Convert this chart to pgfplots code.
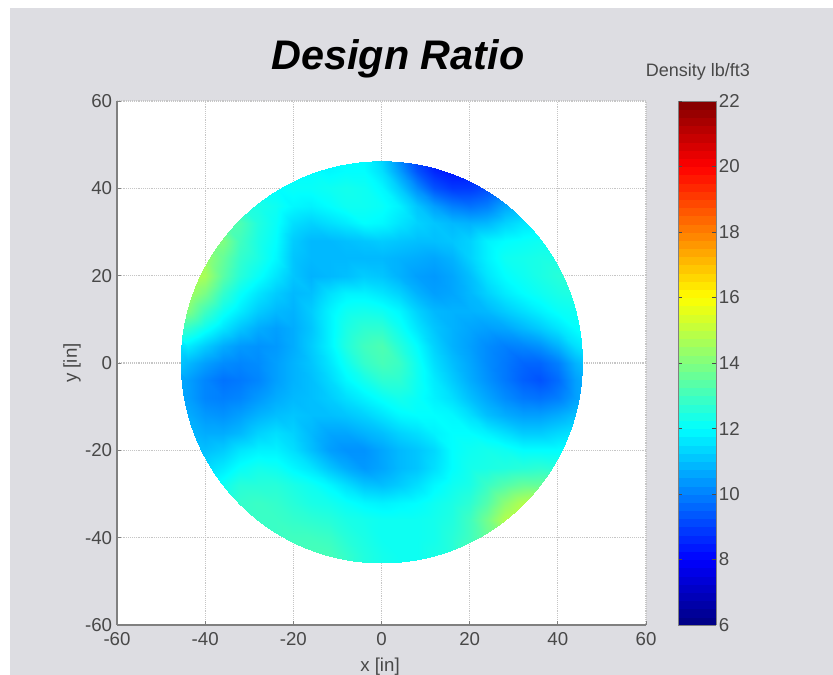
\documentclass[border=0pt]{standalone}
\usepackage{pgfplots}
\pgfplotsset{compat=1.18}
\usepackage{fontspec}
\setmainfont{Liberation Sans}
\definecolor{panel}{HTML}{DDDDE2}
\definecolor{txt}{HTML}{484848}
\definecolor{axln}{HTML}{808080}
\definecolor{grd}{HTML}{C6C6C6}
\begin{document}
\begin{tikzpicture}
\path[use as bounding box] (0pt,0pt) rectangle (624.75pt,506.25pt);
\fill[panel] (7.5pt,0pt) rectangle (624.75pt,500.25pt);
% frame, grid, colour bar
\begin{axis}[
  at={(87.75pt,37.5pt)}, anchor=south west, scale only axis,
  width=396.75pt, height=393pt,
  xmin=-60, xmax=60, ymin=-60, ymax=60,
  xtick={-60,-40,...,60}, ytick={-60,-40,...,60},
  axis background/.style={fill=white},
  axis x line*=bottom, axis y line*=left,
  axis line style={-,axln,line width=0.8pt},
  grid=major, grid style={densely dotted,grd,line width=0.9pt},
  tick align=inside, major tick length=3pt,
  tick style={axln,line width=0.6pt},
  /pgf/number format/assume math mode=true,
  tick label style={font=\fontsize{14}{16}\selectfont,text=txt},
  xticklabel style={inner sep=0pt, yshift=-5.5pt},
  yticklabel style={inner sep=0pt, xshift=-3.5pt},
  colormap/jet, point meta min=6, point meta max=22,
  colorbar,
  colorbar sampled, 
  colorbar style={
    at={(1.0605,0)}, anchor=south west,
    width=28.5pt, height=393pt,
    samples=65,
    ytick={6,8,...,22},
    ytick pos=both, yticklabel pos=right,
    tick align=inside, major tick length=3pt,
    axis line style={-,axln,line width=0.6pt},
    tick style={black!70,line width=0.5pt},
    /pgf/number format/assume math mode=true,
    yticklabel style={font=\fontsize{14}{16}\selectfont,text=txt,inner sep=0pt,xshift=2pt},
  },
]
\addplot[draw=none,forget plot] coordinates {(0,0)};
\end{axis}
% density map: disc of radius about 46 in
\begin{scope}
\clip (286.1pt,234.75pt) circle (150.75pt);
\begin{axis}[
  at={(87.75pt,37.5pt)}, anchor=south west, scale only axis,
  width=396.75pt, height=393pt,
  xmin=-60, xmax=60, ymin=-60, ymax=60,
  hide axis, view={0}{90},
  colormap/jet, point meta min=6, point meta max=22,
]
\addplot3[surf, shader=interp, mesh/cols=25, mesh/ordering=x varies]
 table[row sep=\\, header=false, z index=0,
   x expr={-48+4*mod(\coordindex,25)},
   y expr={48-4*floor(\coordindex/25)}] {
12\\12\\12\\12\\12\\12\\12\\12\\12\\12\\12\\11.9\\11.2\\10\\8.9\\8.2\\8\\8\\8\\8\\8\\8\\8\\8\\8\\
12\\12\\12\\12\\12\\12\\12\\12\\12\\11.9\\12\\12\\11.5\\10.5\\9.3\\8.6\\8.3\\8.5\\8.5\\8.5\\8.5\\8.5\\8.5\\8.5\\8.5\\
12.1\\12.1\\12.1\\12.1\\12.1\\12.1\\12\\12.1\\12.1\\12.2\\12.3\\12.2\\11.9\\11.2\\10.2\\9.3\\8.9\\8.9\\9.2\\9.6\\9.6\\9.6\\9.6\\9.6\\9.6\\
12.6\\12.6\\12.6\\12.6\\12.6\\12.4\\12.2\\11.9\\11.8\\12\\12.2\\12.2\\12.1\\11.8\\11.1\\10.5\\10\\9.8\\10\\10.6\\11\\11\\11\\11\\11\\
13.4\\13.4\\13.4\\13.4\\13.2\\12.5\\12.1\\11.5\\11.3\\11.5\\11.7\\12\\11.9\\11.6\\11.3\\11.1\\10.9\\10.8\\10.9\\11.3\\11.6\\11.9\\11.9\\11.9\\11.9\\
14.2\\14.2\\14.2\\14\\13\\12.4\\12\\11.2\\10.9\\10.9\\11\\11.1\\11.2\\11.1\\11\\11\\11.1\\11.3\\11.8\\12\\12.1\\12.2\\12.3\\12.3\\12.3\\
14.6\\14.6\\14.4\\13.6\\12.8\\12.4\\11.9\\11.1\\10.9\\10.9\\10.9\\10.9\\10.9\\10.8\\10.7\\10.6\\10.8\\11.3\\11.8\\12.2\\12.3\\12.4\\12.4\\12.5\\12.5\\
15\\15\\14.6\\13.4\\12.6\\12.1\\11.6\\11.1\\10.8\\10.9\\11\\11.2\\11.1\\10.8\\10.5\\10.4\\10.6\\11\\11.6\\12\\12.2\\12.4\\12.6\\12.7\\12.7\\
15\\14.6\\13.9\\12.8\\12.1\\11.6\\11.2\\10.9\\11\\11.5\\11.8\\11.8\\11.6\\11.3\\10.8\\10.5\\10.6\\10.9\\11.3\\11.7\\12\\12.2\\12.4\\12.5\\12.5\\
14.4\\14\\13\\12.2\\11.7\\11.2\\10.9\\10.8\\11.2\\11.8\\12.2\\12.3\\12.2\\11.9\\11.3\\10.9\\10.8\\10.8\\10.9\\11.2\\11.5\\11.8\\12.1\\12.2\\12.3\\
13.2\\12.8\\12.2\\11.6\\11.1\\10.7\\10.5\\10.7\\11.1\\11.8\\12.4\\12.7\\12.7\\12.2\\11.6\\11.1\\10.8\\10.6\\10.5\\10.6\\10.9\\11.2\\11.6\\12\\12.2\\
12.2\\11.7\\11.2\\10.7\\10.4\\10.3\\10.4\\10.7\\11.2\\11.8\\12.5\\13\\13.2\\12.6\\12\\11.3\\10.8\\10.5\\10.2\\10\\10.1\\10.3\\10.8\\11.5\\11.9\\
11.3\\10.9\\10.5\\10.2\\10.1\\10.2\\10.5\\10.8\\11.1\\11.6\\12.2\\12.8\\13.1\\12.9\\12.2\\11.5\\11\\10.6\\10.2\\9.9\\9.6\\9.6\\10\\10.8\\11.3\\
10.8\\10.5\\10.1\\9.8\\9.9\\10.1\\10.5\\10.8\\11\\11.4\\11.9\\12.3\\12.7\\12.7\\12.2\\11.7\\11.2\\10.7\\10.3\\9.9\\9.5\\9.3\\9.7\\10.5\\11\\
10.8\\10.5\\10.1\\10\\10.1\\10.4\\10.7\\10.9\\11\\11.2\\11.5\\11.8\\12.1\\12.3\\12.1\\11.8\\11.5\\11\\10.6\\10.2\\9.9\\9.8\\10\\10.5\\10.9\\
10.9\\10.7\\10.4\\10.3\\10.5\\10.8\\11\\11.1\\11\\11\\11.1\\11.3\\11.6\\11.9\\12\\12\\11.9\\11.5\\11\\10.7\\10.5\\10.5\\10.7\\11\\11.2\\
11.1\\10.9\\10.7\\10.7\\10.9\\11.3\\11.5\\11.3\\10.9\\10.6\\10.6\\10.8\\11\\11.3\\11.5\\11.8\\12\\12\\11.8\\11.5\\11.2\\11.2\\11.4\\11.6\\11.7\\
11\\11\\11\\11.2\\11.6\\11.8\\11.8\\11.5\\11\\10.5\\10.3\\10.3\\10.6\\10.9\\11.1\\11.4\\12\\12.2\\12.3\\12.2\\12\\12\\12\\12.1\\12.1\\
11.3\\11.3\\11.4\\11.7\\12.1\\12.3\\12.2\\11.9\\11.6\\11.1\\10.7\\10.4\\10.6\\10.9\\11.1\\11.5\\12\\12.3\\12.4\\12.5\\12.6\\12.7\\12.6\\12.6\\12.6\\
12\\12\\12\\12.2\\12.6\\12.6\\12.6\\12.4\\12.2\\11.9\\11.5\\11.1\\11\\11.2\\11.5\\11.9\\12.2\\12.4\\12.9\\13.3\\13.6\\13.6\\13.6\\13.6\\13.6\\
12.6\\12.6\\12.6\\12.6\\12.8\\12.9\\12.8\\12.6\\12.4\\12.3\\12.1\\11.9\\11.8\\11.9\\12\\12.2\\12.4\\12.7\\13.3\\14.2\\14.8\\15\\15\\15\\15\\
12.8\\12.8\\12.8\\12.8\\12.8\\12.9\\12.9\\12.8\\12.7\\12.6\\12.4\\12.3\\12.2\\12.2\\12.2\\12.3\\12.5\\13\\13.8\\14.8\\15.2\\15.2\\15.2\\15.2\\15.2\\
12.9\\12.9\\12.9\\12.9\\12.9\\12.9\\12.9\\13\\13\\12.9\\12.6\\12.4\\12.2\\12.2\\12.2\\12.3\\12.6\\13\\13.6\\14.2\\14.2\\14.2\\14.2\\14.2\\14.2\\
13\\13\\13\\13\\13\\13\\13\\13\\13.1\\13.1\\12.8\\12.5\\12.3\\12.2\\12.2\\12.4\\12.6\\13.2\\13.2\\13.2\\13.2\\13.2\\13.2\\13.2\\13.2\\
13\\13\\13\\13\\13\\13\\13\\13\\13.2\\13.2\\12.9\\12.5\\12.3\\12.2\\12.2\\12.4\\12.7\\13.2\\13.2\\13.2\\13.2\\13.2\\13.2\\13.2\\13.2\\
};
\end{axis}
\end{scope}
% texts
\node[font=\fontsize{31}{34}\selectfont\bfseries\itshape,text=black] at (298.5pt,462pt) {Design Ratio};
\node[font=\fontsize{13.5}{15}\selectfont,text=txt] at (523.5pt,452.5pt) {Density lb/ft3};
\node[font=\fontsize{14}{16}\selectfont,text=txt] at (285pt,6.5pt) {x [in]};
\node[font=\fontsize{14}{16}\selectfont,text=txt,rotate=90] at (54pt,234pt) {y [in]};
\end{tikzpicture}
\end{document}
